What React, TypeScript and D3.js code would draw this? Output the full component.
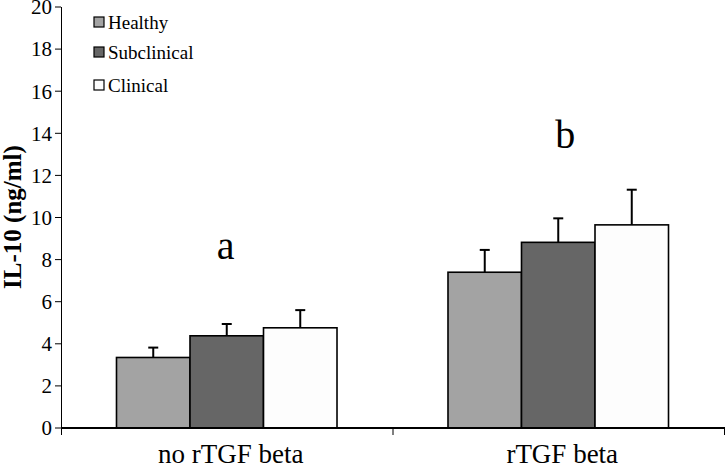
import React from "react";
import * as d3 from "d3";

const categories = ["no rTGF beta", "rTGF beta"];
const seriesNames = ["Healthy", "Subclinical", "Clinical"];
const healthy = [3.35, 7.4];
const subclinical = [4.38, 8.82];
const clinical = [4.76, 9.65];
const healthyErr = [0.47, 1.06];
const subclinicalErr = [0.56, 1.14];
const clinicalErr = [0.84, 1.67];
const groupLetters = ["a", "b"];
const yTicks = [0, 2, 4, 6, 8, 10, 12, 14, 16, 18, 20];

const colors = ["#a3a3a3", "#666666", "#fdfdfd"];

export default function App() {
  const W = 725, H = 468;
  const left = 61, right = 724, top = 7, bottom = 428;
  const x = d3.scaleBand<string>().domain(categories).range([left, right]);
  const inner = d3.scaleBand<string>().domain(seriesNames).range([0, x.bandwidth()]).paddingOuter(0.755);
  const y = d3.scaleLinear().domain([0, 20]).range([bottom, top]);
  const values = [healthy, subclinical, clinical];
  const errs = [healthyErr, subclinicalErr, clinicalErr];
  const font = "Liberation Serif";
  const letterY = [259, 148];

  return (
    <svg width={W} height={H} style={{ position: "absolute", left: 0, top: 0, background: "#fff", fontFamily: font }}>
      <rect x={0} y={0} width={W} height={H} fill="#fff" />
      {categories.map((c, ci) =>
        seriesNames.map((s, si) => {
          const bx = (x(c) as number) + (inner(s) as number);
          const bw = inner.bandwidth();
          const v = values[si][ci];
          const e = errs[si][ci];
          const cx = bx + bw / 2;
          return (
            <g key={c + s}>
              <line x1={cx} x2={cx} y1={y(v)} y2={y(v + e)} stroke="#000" strokeWidth={2} />
              <line x1={cx - 5} x2={cx + 5} y1={y(v + e)} y2={y(v + e)} stroke="#000" strokeWidth={2} />
              <rect x={bx} y={y(v)} width={bw} height={y(0) - y(v)} fill={colors[si]} stroke="#000" strokeWidth={1.6} />
            </g>
          );
        })
      )}
      <line x1={left + 0.5} x2={left + 0.5} y1={top} y2={bottom} stroke="#000" strokeWidth={1} />
      {yTicks.map((t) => (
        <g key={t}>
          <line x1={left - 6} x2={left} y1={y(t)} y2={y(t)} stroke="#000" strokeWidth={1} />
          <text x={52} y={y(t)} dy="0.35em" textAnchor="end" fontFamily={font} fontSize={21} fill="#000">
            {t}
          </text>
        </g>
      ))}
      <line x1={left} x2={right + 1} y1={bottom} y2={bottom} stroke="#000" strokeWidth={2} />
      {[left, (x(categories[1]) as number), right].map((tx, i) => (
        <line key={i} x1={tx + 0.5} x2={tx + 0.5} y1={bottom} y2={bottom + 7} stroke="#000" strokeWidth={1} />
      ))}
      {categories.map((c) => (
        <text key={c} x={(x(c) as number) + x.bandwidth() / 2 + 4} y={463} textAnchor="middle" fontFamily={font} fontSize={27} fill="#000">
          {c}
        </text>
      ))}
      {categories.map((c, ci) => (
        <text key={c + "l"} x={(x(c) as number) + x.bandwidth() / 2 + (ci === 0 ? -1 : 7)} y={letterY[ci]} textAnchor="middle" fontFamily={font} fontSize={40} fill="#000">
          {groupLetters[ci]}
        </text>
      ))}
      <text transform={`translate(21,217) rotate(-90)`} textAnchor="middle" fontFamily={font} fontWeight="bold" fontSize={25} fill="#000">
        IL-10 (ng/ml)
      </text>
      {seriesNames.map((s, i) => {
        const ly = [22, 52, 85][i];
        return (
          <g key={s}>
            <rect x={94} y={ly - 5} width={10} height={10} fill={colors[i]} stroke="#000" strokeWidth={1.2} />
            <text x={108} y={ly} dy="0.35em" fontFamily={font} fontSize={19} fill="#000">
              {s}
            </text>
          </g>
        );
      })}
    </svg>
  );
}
